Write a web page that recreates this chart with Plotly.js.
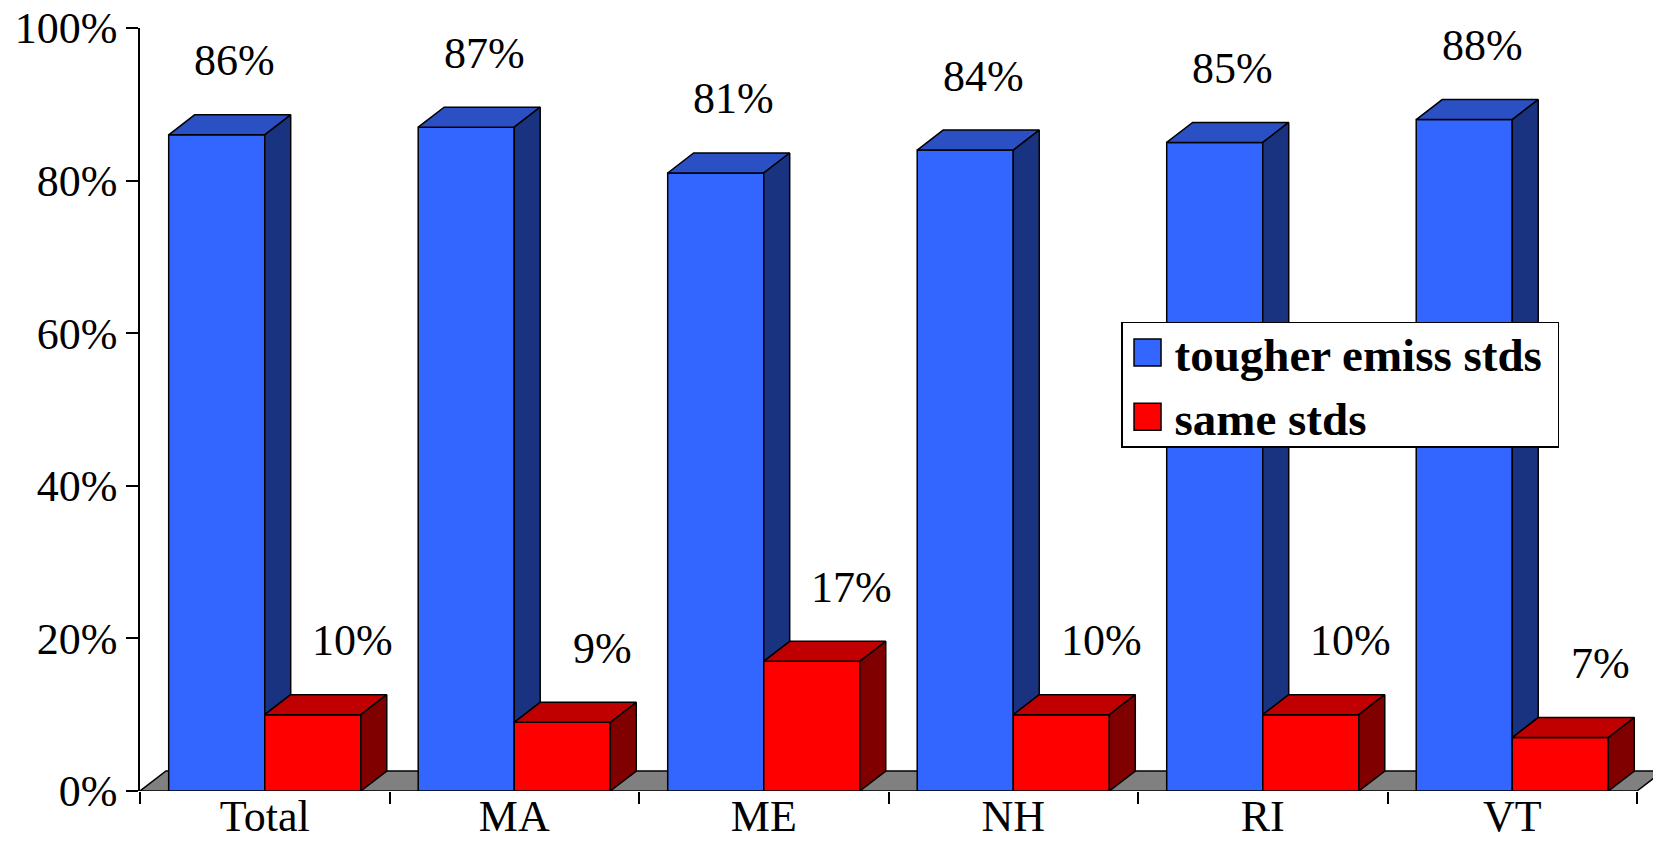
<!DOCTYPE html>
<html>
<head>
<meta charset="utf-8">
<script src="https://cdn.plot.ly/plotly-3.0.1.min.js"></script>
<style>html,body{margin:0;padding:0;background:#fff;}#chart{width:1653px;height:864px;}</style>
</head>
<body>
<div id="chart"></div>
<script>
// ---- data ----
const categories = ['Total', 'MA', 'ME', 'NH', 'RI', 'VT'];
const tougherStds = [86, 87, 81, 84, 85, 88];
const sameStds = [10, 9, 17, 10, 10, 7];
const seriesNames = ['tougher emiss stds', 'same stds'];
const yTickVals = [0, 20, 40, 60, 80, 100];
const yTickLabels = ['0%', '20%', '40%', '60%', '80%', '100%'];

// ---- style / geometry ----
const FONT = 'Liberation Serif, Times New Roman, serif';
const W = 0.385;          // bar width in category units
const DX = 0.104;         // 3D depth, x (category units)
const DY = 2.62;          // 3D depth, y (percent units)
const blue = {front: '#3366FF', top: '#2A50C4', side: '#1A3380'};
const red = {front: '#FF0000', top: '#C00000', side: '#800000'};
const LW = 1.5;

const xs = categories.map((_, i) => i);

function topPolys(vals, off) {
  const X = [], Y = [];
  vals.forEach((v, i) => {
    const l = xs[i] + off, r = l + W;
    X.push(l, r, r + DX, l + DX, l, null);
    Y.push(v, v, v + DY, v + DY, v, null);
  });
  return {x: X, y: Y};
}
function sidePolys(vals, lows, off) {
  const X = [], Y = [];
  vals.forEach((v, i) => {
    const r = xs[i] + off + W;
    const lo = lows ? lows[i] : 0;
    X.push(r, r, r + DX, r + DX, r, null);
    Y.push(lo, v, v + DY, lo + DY, lo, null);
  });
  return {x: X, y: Y};
}
function faceTrace(p, color) {
  return {
    type: 'scatter', mode: 'lines', x: p.x, y: p.y,
    fill: 'toself', fillcolor: color,
    line: {color: '#000', width: LW}, connectgaps: false,
    hoverinfo: 'skip', showlegend: false
  };
}

const traces = [
  {
    type: 'bar', name: seriesNames[0], x: xs, y: tougherStds,
    offset: -W, width: W,
    marker: {color: blue.front, line: {color: '#000', width: LW}},
    hovertemplate: '%{y}%<extra></extra>'
  },
  {
    type: 'bar', name: seriesNames[1], x: xs, y: sameStds,
    offset: 0, width: W,
    marker: {color: red.front, line: {color: '#000', width: LW}},
    hovertemplate: '%{y}%<extra></extra>'
  },
  faceTrace(topPolys(tougherStds, -W), blue.top),
  faceTrace(sidePolys(tougherStds, sameStds, -W), blue.side),
  faceTrace(topPolys(sameStds, 0), red.top),
  faceTrace(sidePolys(sameStds, null, 0), red.side)
];

const annotations = [];
tougherStds.forEach((v, i) => annotations.push({
  x: xs[i] - W / 2, y: v, xref: 'x', yref: 'y', text: v + '%', showarrow: false,
  xanchor: 'center', yanchor: 'middle', xshift: 18, yshift: 74,
  font: {family: FONT, size: 44, color: '#000'}
}));
sameStds.forEach((v, i) => annotations.push({
  x: xs[i] + W / 2, y: v, xref: 'x', yref: 'y', text: v + '%', showarrow: false,
  xanchor: 'center', yanchor: 'middle', xshift: 40, yshift: 74,
  font: {family: FONT, size: 44, color: '#000'}
}));

const xLo = -0.5, xHi = categories.length - 0.5;
const boundaries = [];
for (let b = xLo; b <= xHi + 1e-9; b += 1) boundaries.push(b);

const layout = {
  width: 1653, height: 864,
  margin: {l: 140, r: 0, t: 28, b: 73, pad: 0},
  paper_bgcolor: '#fff', plot_bgcolor: '#fff',
  barmode: 'overlay',
  font: {family: FONT, size: 44, color: '#000'},
  xaxis: {
    range: [xLo, 5.564],
    tickmode: 'array', tickvals: xs, ticktext: categories,
    ticks: '', ticklabelstandoff: -5,
    showline: false, zeroline: false, showgrid: false,
    tickfont: {family: FONT, size: 44, color: '#000'},
    minor: {tickmode: 'array', tickvals: boundaries, ticks: 'outside', ticklen: 12, tickwidth: LW, tickcolor: '#000', showgrid: false},
    fixedrange: true
  },
  yaxis: {
    range: [0, 100],
    tickmode: 'array', tickvals: yTickVals, ticktext: yTickLabels,
    ticks: 'outside', ticklen: 12, tickwidth: LW, tickcolor: '#000',
    showline: true, linecolor: '#000', linewidth: LW,
    zeroline: false, showgrid: false,
    tickfont: {family: FONT, size: 44, color: '#000'},
    fixedrange: true
  },
  shapes: [{
    type: 'path', xref: 'x', yref: 'y', layer: 'below',
    path: `M ${xLo},0 L ${xHi},0 L ${xHi + DX},${DY} L ${xLo + DX},${DY} Z`,
    fillcolor: '#808080', line: {color: '#000', width: LW}
  }],
  annotations: annotations,
  showlegend: true,
  legend: {
    x: 0.6484, y: 0.6147, xanchor: 'left', yanchor: 'top',
    bgcolor: '#fff', bordercolor: '#000', borderwidth: 1.5,
    font: {family: FONT, size: 47, color: '#000', weight: 'bold'},
    traceorder: 'normal', itemclick: false, itemdoubleclick: false
  }
};

// legend fine-tuning (pixels)
const TEXT_EXTRA = 12, BOX_EXTRA_W = 22, ITEM_SHIFT_Y = -8, BOX_LESS_H = 16;
Plotly.newPlot('chart', traces, layout, {displayModeBar: false}).then(() => {
  const leg = document.querySelector('.legend');
  if (!leg) return;
  leg.querySelectorAll('.legendpoints path').forEach(p => {
    p.setAttribute('d', 'M18.5,13.5H-8.5V-13.5H18.5Z');
  });
  leg.querySelectorAll('text.legendtext').forEach(t => {
    const x = parseFloat(t.getAttribute('x') || '40');
    t.setAttribute('x', x + TEXT_EXTRA);
  });
  leg.querySelectorAll('g.traces').forEach(g => {
    const m = /translate\(\s*([-\d.e]+)[ ,]+([-\d.e]+)\s*\)/.exec(g.getAttribute('transform') || '');
    if (m) g.setAttribute('transform', `translate(${parseFloat(m[1])},${parseFloat(m[2]) + ITEM_SHIFT_Y})`);
  });
  const bg = leg.querySelector('rect.bg');
  if (bg) {
    bg.setAttribute('width', parseFloat(bg.getAttribute('width')) + BOX_EXTRA_W);
    bg.setAttribute('height', parseFloat(bg.getAttribute('height')) - BOX_LESS_H);
  }
  const sb = leg.querySelector('.scrollbox');
  if (sb) sb.removeAttribute('clip-path');
});
</script>
</body>
</html>
